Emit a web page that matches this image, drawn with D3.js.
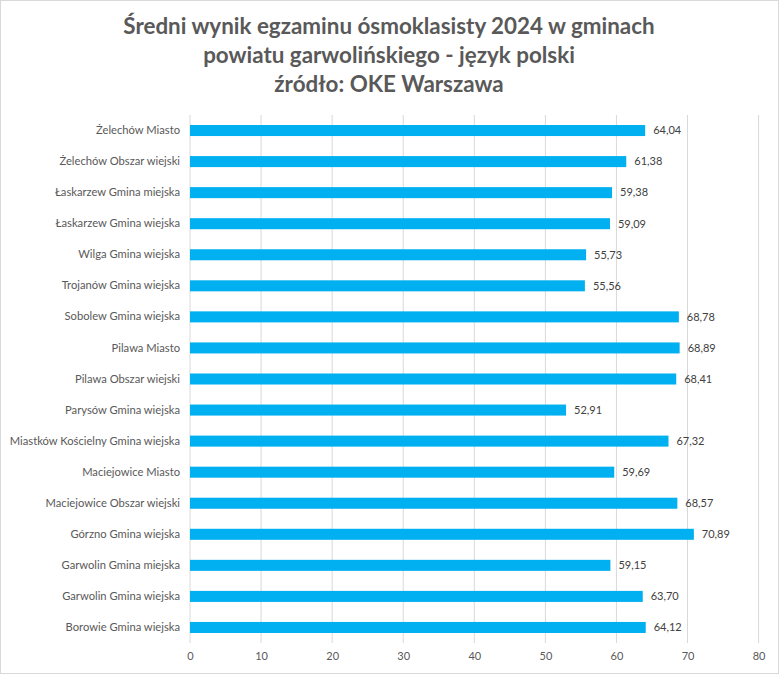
<!DOCTYPE html>
<html><head><meta charset="utf-8">
<script src="https://cdn.jsdelivr.net/npm/d3@7"></script>
<style>body{margin:0;background:#fff}svg{display:block}</style>
</head><body>
<svg id="c" width="779" height="674"></svg>
<script>
const categories = ["Żelechów Miasto","Żelechów Obszar wiejski","Łaskarzew Gmina miejska","Łaskarzew Gmina wiejska","Wilga Gmina wiejska","Trojanów Gmina wiejska","Sobolew Gmina wiejska","Pilawa Miasto","Pilawa Obszar wiejski","Parysów Gmina wiejska","Miastków Kościelny Gmina wiejska","Maciejowice Miasto","Maciejowice Obszar wiejski","Górzno Gmina wiejska","Garwolin Gmina miejska","Garwolin Gmina wiejska","Borowie Gmina wiejska"];
const values = [64.04,61.38,59.38,59.09,55.73,55.56,68.78,68.89,68.41,52.91,67.32,59.69,68.57,70.89,59.15,63.70,64.12];
const xTicks = [0,10,20,30,40,50,60,70,80];
const titleLines = ["Średni wynik egzaminu ósmoklasisty 2024 w gminach","powiatu garwolińskiego - język polski","źródło: OKE Warszawa"];

const svg = d3.select("#c");
const W = 779, H = 674;
svg.append("rect").attr("x",0.5).attr("y",0.5).attr("width",W-1).attr("height",H-1)
  .attr("fill","#fff").attr("stroke","#d9d9d9");

const x = d3.scaleLinear().domain([0,80]).range([190,758.6]);
const y = d3.scaleBand().domain(categories).range([115,643]).paddingInner(0.645).paddingOuter(0.3225);

const font = "Lato, 'Open Sans', sans-serif";

// gridlines
svg.append("g").selectAll("line").data(xTicks.slice(1)).join("line")
  .attr("x1",d=>x(d)).attr("x2",d=>x(d)).attr("y1",115).attr("y2",643)
  .attr("stroke","#d9d9d9").attr("stroke-width",1);
svg.append("line").attr("x1",x(0)).attr("x2",x(0)).attr("y1",115).attr("y2",643)
  .attr("stroke","#d9d9d9").attr("stroke-width",1);

// bars
svg.append("g").selectAll("rect").data(values).join("rect")
  .attr("x",x(0)).attr("y",(d,i)=>y(categories[i]))
  .attr("width",d=>x(d)-x(0)).attr("height",y.bandwidth())
  .attr("fill","#00b0f0");

// value labels
svg.append("g").selectAll("text").data(values).join("text")
  .attr("x",d=>x(d)+8).attr("y",(d,i)=>y(categories[i])+y.bandwidth()/2)
  .attr("dy","0.35em").attr("font-family",font).attr("font-size",11)
  .attr("fill","#404040").text(d=>d.toFixed(2).replace(".",","));

// category labels
const ax = d3.axisLeft(y).tickSize(0).tickPadding(10);
const gy = svg.append("g").attr("transform",`translate(${x(0)},0)`).call(ax);
gy.select(".domain").remove();
gy.selectAll("text").attr("font-family",font).attr("font-size",11.2).attr("fill","#595959");

// x axis
const gx = svg.append("g").attr("transform","translate(0,643)")
  .call(d3.axisBottom(x).tickValues(xTicks).tickSize(0).tickPadding(9).tickFormat(d3.format("d")));
gx.select(".domain").remove();
gx.selectAll("text").attr("font-family",font).attr("font-size",11).attr("fill","#595959");

// title
svg.append("g").selectAll("text").data(titleLines).join("text")
  .attr("x",389).attr("y",(d,i)=>34+i*29).attr("text-anchor","middle")
  .attr("font-family",font).attr("font-weight","bold").attr("font-size",22.4)
  .attr("fill","#595959").text(d=>d);
</script>
</body></html>
